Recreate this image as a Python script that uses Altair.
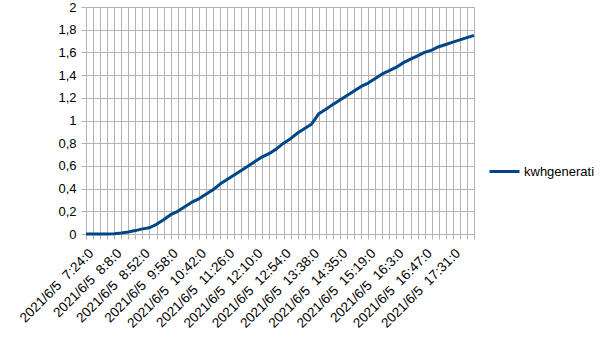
import altair as alt
import pandas as pd

times = ["7:24:0","7:35:0","7:46:0","7:57:0","8:8:0","8:19:0","8:30:0","8:41:0","8:52:0",
         "9:14:0","9:25:0","9:47:0","9:58:0",
         "10:9:0","10:20:0","10:31:0","10:42:0",
         "10:53:0","11:4:0","11:15:0","11:26:0",
         "11:37:0","11:48:0","11:59:0","12:10:0",
         "12:21:0","12:32:0","12:43:0","12:54:0",
         "13:5:0","13:16:0","13:27:0","13:38:0",
         "13:49:0","14:2:0","14:24:0","14:35:0",
         "14:46:0","14:57:0","15:8:0","15:19:0",
         "15:30:0","15:41:0","15:52:0","16:3:0",
         "16:14:0","16:25:0","16:36:0","16:47:0",
         "16:58:0","17:9:0","17:20:0","17:31:0",
         "17:42:0","17:53:0","18:4:0"]

kwh = [0, 0, 0, 0, 0.002, 0.008, 0.018, 0.03, 0.045, 0.055,
       0.085, 0.125, 0.17, 0.2, 0.24, 0.28, 0.31, 0.35, 0.39, 0.44,
       0.48, 0.52, 0.56, 0.6, 0.64, 0.68, 0.71, 0.75, 0.8, 0.84,
       0.89, 0.93, 0.97, 1.06, 1.1, 1.14, 1.18, 1.22, 1.26, 1.3,
       1.33, 1.37, 1.41, 1.44, 1.47, 1.51, 1.54, 1.57, 1.6, 1.62,
       1.65, 1.67, 1.69, 1.71, 1.73, 1.75]

date_prefix = "2021/6/5\u00a0\u00a0"
cats = [date_prefix + t for t in times]
shown = [cats[i] for i in range(0, len(cats), 4)]

df = pd.DataFrame({"time": cats, "kwh": kwh, "series": "kwhgenerati"})

shown_js = "[" + ",".join("'" + s + "'" for s in shown) + "]"

grid_color = "#b3b3b3"

chart = alt.Chart(df).mark_line(strokeWidth=3, strokeJoin="round").encode(
    x=alt.X("time:O", sort=cats, title=None,
            scale=alt.Scale(type="point", padding=0),
            axis=alt.Axis(grid=True, gridColor=grid_color, domainColor=grid_color,
                          tickColor=grid_color, tickSize=5, labelAngle=-45,
                          labelAlign="right", labelBaseline="top", labelOverlap=False,
                          labelFont="Liberation Sans", labelFontSize=13.5,
                          labelColor="#000000", labelPadding=7, labelBound=False,
                          labelExpr="indexof(" + shown_js + ", datum.value) >= 0 ? datum.value : ''")),
    y=alt.Y("kwh:Q", title=None,
            scale=alt.Scale(domain=[0, 2], nice=False),
            axis=alt.Axis(values=[0, 0.2, 0.4, 0.6, 0.8, 1, 1.2, 1.4, 1.6, 1.8, 2],
                          grid=True, gridColor=grid_color, domainColor=grid_color,
                          tickColor=grid_color, tickSize=5, labelPadding=5,
                          labelFont="Liberation Sans", labelFontSize=13,
                          labelColor="#000000",
                          labelExpr="replace(format(datum.value, ''), '.', ',')")),
    color=alt.Color("series:N", title=None,
                    scale=alt.Scale(range=["#004586"]),
                    legend=alt.Legend(orient="none", legendX=402, legendY=148,
                                      symbolType="stroke", symbolSize=900,
                                      symbolStrokeWidth=3, labelFont="Liberation Sans",
                                      labelFontSize=13, labelColor="#000000",
                                      labelOffset=3)),
).properties(
    width=388, height=227,
    autosize=alt.AutoSizeParams(type="none"),
    padding={"left": 86, "top": 7, "right": 131, "bottom": 106},
).configure_view(stroke=None).configure(background="white")

chart.save("out.html", embed_options={"renderer": "svg", "actions": False})
